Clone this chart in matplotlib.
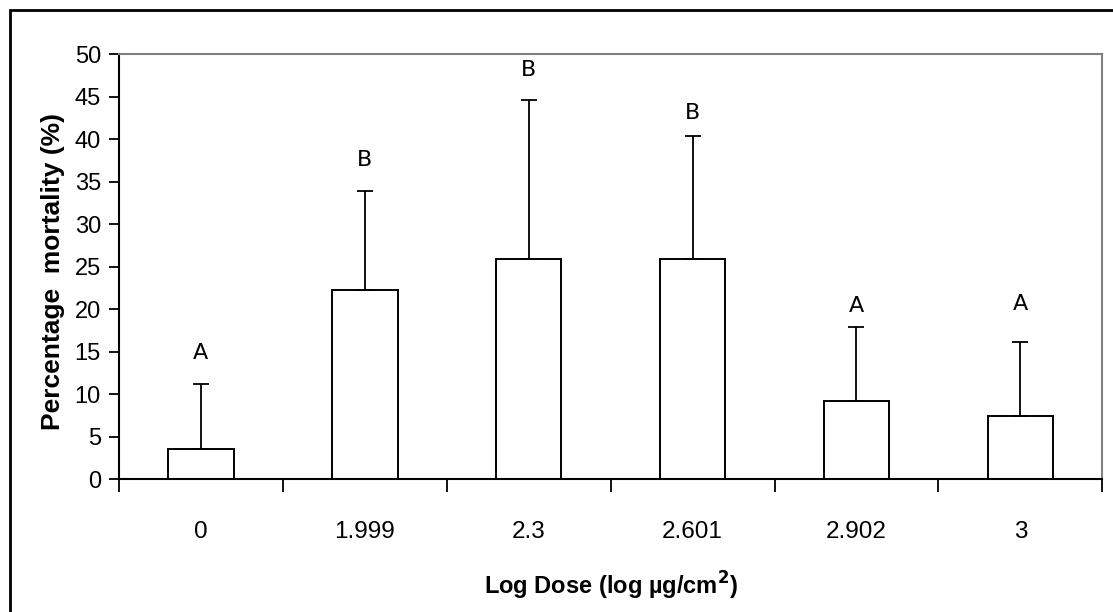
import matplotlib
matplotlib.use("Agg")
import matplotlib.pyplot as plt
from matplotlib import font_manager
from matplotlib.patches import Rectangle
import numpy as np

# ---- data ----
dose_labels = ["0", "1.999", "2.3", "2.601", "2.902", "3"]
mortality = [3.6, 22.3, 25.9, 25.9, 9.2, 7.5]
err_upper = [7.6, 11.6, 18.7, 14.5, 8.75, 8.7]
letters = ["A", "B", "B", "B", "A", "A"]
letter_y = [14.9, 37.6, 48.1, 43.1, 20.4, 20.6]
yticks = list(range(0, 51, 5))

def pick(fams):
    for f in fams:
        try:
            font_manager.findfont(font_manager.FontProperties(family=f), fallback_to_default=False)
            return f
        except Exception:
            pass
    return "DejaVu Sans"

arial = pick(["Liberation Sans", "Arial"])

W, H = 1113, 612
fig = plt.figure(figsize=(W / 100, H / 100), dpi=100)
fig.patch.set_facecolor("white")

# outer frame (only top/left visible, rest cropped)
fig.patches.append(Rectangle((9.5 / W, 0 - 0.05), 1.2, (H - 10) / H + 0.05,
                             transform=fig.transFigure, fill=False,
                             edgecolor="black", linewidth=2.0, zorder=0))

left, right = 119 / W, 1102.3 / W
top, bottom = 1 - 54.3 / H, 1 - 479.3 / H
ax = fig.add_axes([left, bottom, right - left, top - bottom])

x = np.arange(len(dose_labels))
ax.bar(x, mortality, width=0.4, color="white", edgecolor="black", linewidth=1.4, zorder=2)
ax.errorbar(x, mortality, yerr=[np.zeros(len(x)), err_upper], fmt="none",
            ecolor="black", elinewidth=1.3, capsize=5.5, capthick=1.3, zorder=3)

for xi, lt, ly in zip(x, letters, letter_y):
    ax.text(xi, ly, lt, ha="center", va="center", fontsize=16,
            family="DejaVu Sans", color="black")

ax.set_xlim(-0.5, len(x) - 0.5)
ax.set_ylim(0, 50)
ax.set_yticks(yticks)
ax.set_yticklabels([str(v) for v in yticks], family=arial, fontsize=17)
ax.tick_params(axis="y", direction="out", length=7, width=1.3, pad=6)

ax.set_xticks(np.arange(-0.5, len(x), 1.0))
ax.set_xticklabels([])
ax.tick_params(axis="x", which="major", direction="out", length=9, width=1.3)
ax.set_xticks(x, minor=True)
ax.set_xticklabels(dose_labels, minor=True, fontsize=17.5, family=arial)
ax.tick_params(axis="x", which="minor", length=0, pad=30)

for s in ["left", "bottom"]:
    ax.spines[s].set_color("black")
    ax.spines[s].set_linewidth(1.5)
for s in ["top", "right"]:
    ax.spines[s].set_color("#808080")
    ax.spines[s].set_linewidth(1.5)

ax.set_ylabel("Percentage  mortality (%)", family=arial, fontweight="bold", fontsize=19)
ax.yaxis.set_label_coords(-0.055, 0.49)
ax.set_xlabel("Log Dose (log µg/cm$^{\\mathbf{2}}$)", fontweight="bold", fontsize=17, family=arial)
ax.xaxis.set_label_coords(0.5, -0.212)

fig.savefig("out.png", dpi=100)
